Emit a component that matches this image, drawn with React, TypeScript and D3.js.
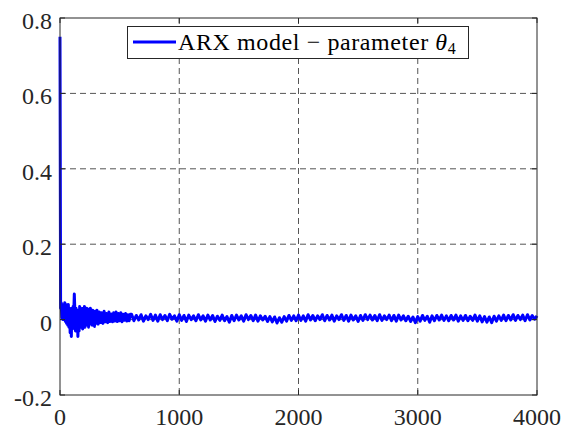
import * as React from 'react';
import * as d3 from 'd3';

// early transient, every 5 iterations (0..295)
const earlySteps = d3.range(0, 300, 5);
const earlyValues = [
  0.75, 0.03, 0.045, 0.005, 0.04, 0.0, 0.035, 0.01, 0.045, -0.005,
  0.04, -0.01, 0.035, -0.015, 0.04, -0.02, 0.03, -0.035, 0.025, -0.045,
  0.03, -0.025, 0.035, 0.01, 0.068, 0.02, -0.03, 0.03, -0.02, 0.025,
  -0.045, 0.02, -0.03, 0.035, -0.02, 0.03, -0.015, 0.025, -0.025, 0.03,
  -0.01, 0.035, -0.02, 0.025, -0.015, 0.03, -0.01, 0.02, -0.02, 0.028,
  -0.012, 0.03, -0.008, 0.022, -0.015, 0.025, -0.01, 0.02, -0.018, 0.022,
];

// settling, every 10 iterations (300..590)
const midSteps = d3.range(300, 600, 10);
const midValues = [
  -0.01, 0.025, -0.012, 0.02, -0.008, 0.018, -0.01, 0.022, -0.006, 0.016,
  -0.008, 0.02, -0.005, 0.015, -0.006, 0.018, -0.004, 0.02, -0.005, 0.016,
  -0.003, 0.018, -0.006, 0.014, -0.002, 0.016, -0.004, 0.013, -0.003, 0.014,
];

// steady part, every 20 iterations (600..4000)
const lateSteps = d3.range(600, 4001, 20);
const lateValues = [
  0.014, -0.003, 0.011, -0.001, 0.013, -0.004, 0.010, 0.000, 0.014, -0.002,
  0.012, -0.004, 0.013, 0.000, 0.011, -0.003, 0.014, 0.001, 0.010, -0.004,
  0.013, -0.002, 0.011, -0.005, 0.012, 0.000, 0.010, -0.003, 0.013, -0.001,
  0.010, -0.004, 0.012, -0.001, 0.011, -0.005, 0.009, -0.002, 0.012, -0.003,
  0.008, -0.007, 0.011, -0.003, 0.012, -0.001, 0.010, -0.004, 0.013, 0.000,
  0.011, -0.003, 0.012, -0.004, 0.010, -0.001, 0.009, -0.005, 0.008, -0.006,
  0.007, -0.009, 0.005, -0.007, 0.008, -0.004, 0.011, -0.002, 0.010, -0.003,
  0.012, -0.002, 0.010, -0.004, 0.013, -0.001, 0.011, -0.003, 0.010, 0.000,
  0.013, -0.003, 0.011, -0.001, 0.012, -0.004, 0.010, 0.000, 0.013, -0.002,
  0.011, -0.004, 0.012, -0.001, 0.010, -0.005, 0.011, -0.002, 0.013, 0.000,
  0.012, -0.001, 0.011, -0.003, 0.013, -0.002, 0.010, 0.000, 0.012, -0.003,
  0.011, -0.004, 0.012, -0.001, 0.010, -0.003, 0.009, -0.005, 0.007, -0.008,
  0.008, -0.004, 0.011, -0.002, 0.009, -0.007, 0.010, -0.003, 0.011, -0.001,
  0.012, -0.002, 0.010, -0.003, 0.011, -0.001, 0.012, -0.004, 0.010, -0.002,
  0.011, -0.003, 0.009, -0.002, 0.012, -0.004, 0.010, -0.006, 0.008, -0.007,
  0.007, -0.008, 0.009, -0.004, 0.010, -0.002, 0.012, -0.003, 0.011, -0.001,
  0.013, -0.002, 0.011, 0.000, 0.012, -0.003, 0.013, -0.001, 0.011, 0.001,
  0.010,
];

const xTicks = [0, 1000, 2000, 3000, 4000];
const yTicks = [-0.2, 0, 0.2, 0.4, 0.6, 0.8];
const yTickLabels = ['-0.2', '0', '0.2', '0.4', '0.6', '0.8'];

const W = 565;
const H = 430;
const margin = { top: 18, right: 28, bottom: 35, left: 60 };
const font = 'Liberation Serif';
const axisColor = '#262626';

export default function App() {
  const points: [number, number][] = [
    ...earlySteps.map((t, i) => [t, earlyValues[i]] as [number, number]),
    ...midSteps.map((t, i) => [t, midValues[i]] as [number, number]),
    ...lateSteps.map((t, i) => [t, lateValues[i]] as [number, number]),
  ];

  const x = d3.scaleLinear().domain([0, 4000]).range([margin.left, W - margin.right]);
  const y = d3.scaleLinear().domain([-0.2, 0.8]).range([H - margin.bottom, margin.top]);
  const line = d3.line<[number, number]>().x(d => x(d[0])).y(d => y(d[1]));

  const x0 = x(0), x1 = x(4000), y0 = y(-0.2), y1 = y(0.8);
  const tickLen = 5;

  return (
    <svg width={W} height={H} style={{ position: 'absolute', left: 0, top: 0, background: '#fff' }}>
      {/* grid */}
      {xTicks.slice(1, -1).map(t => (
        <line key={'gx' + t} x1={x(t)} x2={x(t)} y1={y1} y2={y0}
          stroke="#555" strokeWidth={1} strokeDasharray="6,4" />
      ))}
      {yTicks.slice(1, -1).map(t => (
        <line key={'gy' + t} x1={x0} x2={x1} y1={y(t)} y2={y(t)}
          stroke="#555" strokeWidth={1} strokeDasharray="6,4" />
      ))}

      {/* data */}
      <path d={line(points) || ''} fill="none" stroke="#0000ff" strokeWidth={3} strokeLinejoin="round" />

      {/* box */}
      <rect x={x0} y={y1} width={x1 - x0} height={y0 - y1} fill="none" stroke={axisColor} strokeWidth={1} />
      {xTicks.map(t => (
        <g key={'tx' + t}>
          <line x1={x(t)} x2={x(t)} y1={y0} y2={y0 - tickLen} stroke={axisColor} />
          <line x1={x(t)} x2={x(t)} y1={y1} y2={y1 + tickLen} stroke={axisColor} />
          <text x={x(t)} y={y0 + 30} textAnchor="middle" fontFamily={font} fontSize={24} fill={axisColor}>{t}</text>
        </g>
      ))}
      {yTicks.map((t, i) => (
        <g key={'ty' + t}>
          <line x1={x0} x2={x0 + tickLen} y1={y(t)} y2={y(t)} stroke={axisColor} />
          <line x1={x1} x2={x1 - tickLen} y1={y(t)} y2={y(t)} stroke={axisColor} />
          <text x={x0 - 8} y={y(t) + 11} textAnchor="end" fontFamily={font} fontSize={24} fill={axisColor}>{yTickLabels[i]}</text>
        </g>
      ))}

      {/* legend */}
      <rect x={127.5} y={26.5} width={341} height={32} fill="#fff" stroke={axisColor} strokeWidth={1} />
      <line x1={133} x2={176} y1={42} y2={42} stroke="#0000ff" strokeWidth={3} />
      <text x={178} y={50} fontFamily={font} fontSize={24} fill="#000" letterSpacing={0.6}>
        ARX model − parameter <tspan fontStyle="italic">θ</tspan>
        <tspan fontSize={16} dy={4}>4</tspan>
      </text>
    </svg>
  );
}
